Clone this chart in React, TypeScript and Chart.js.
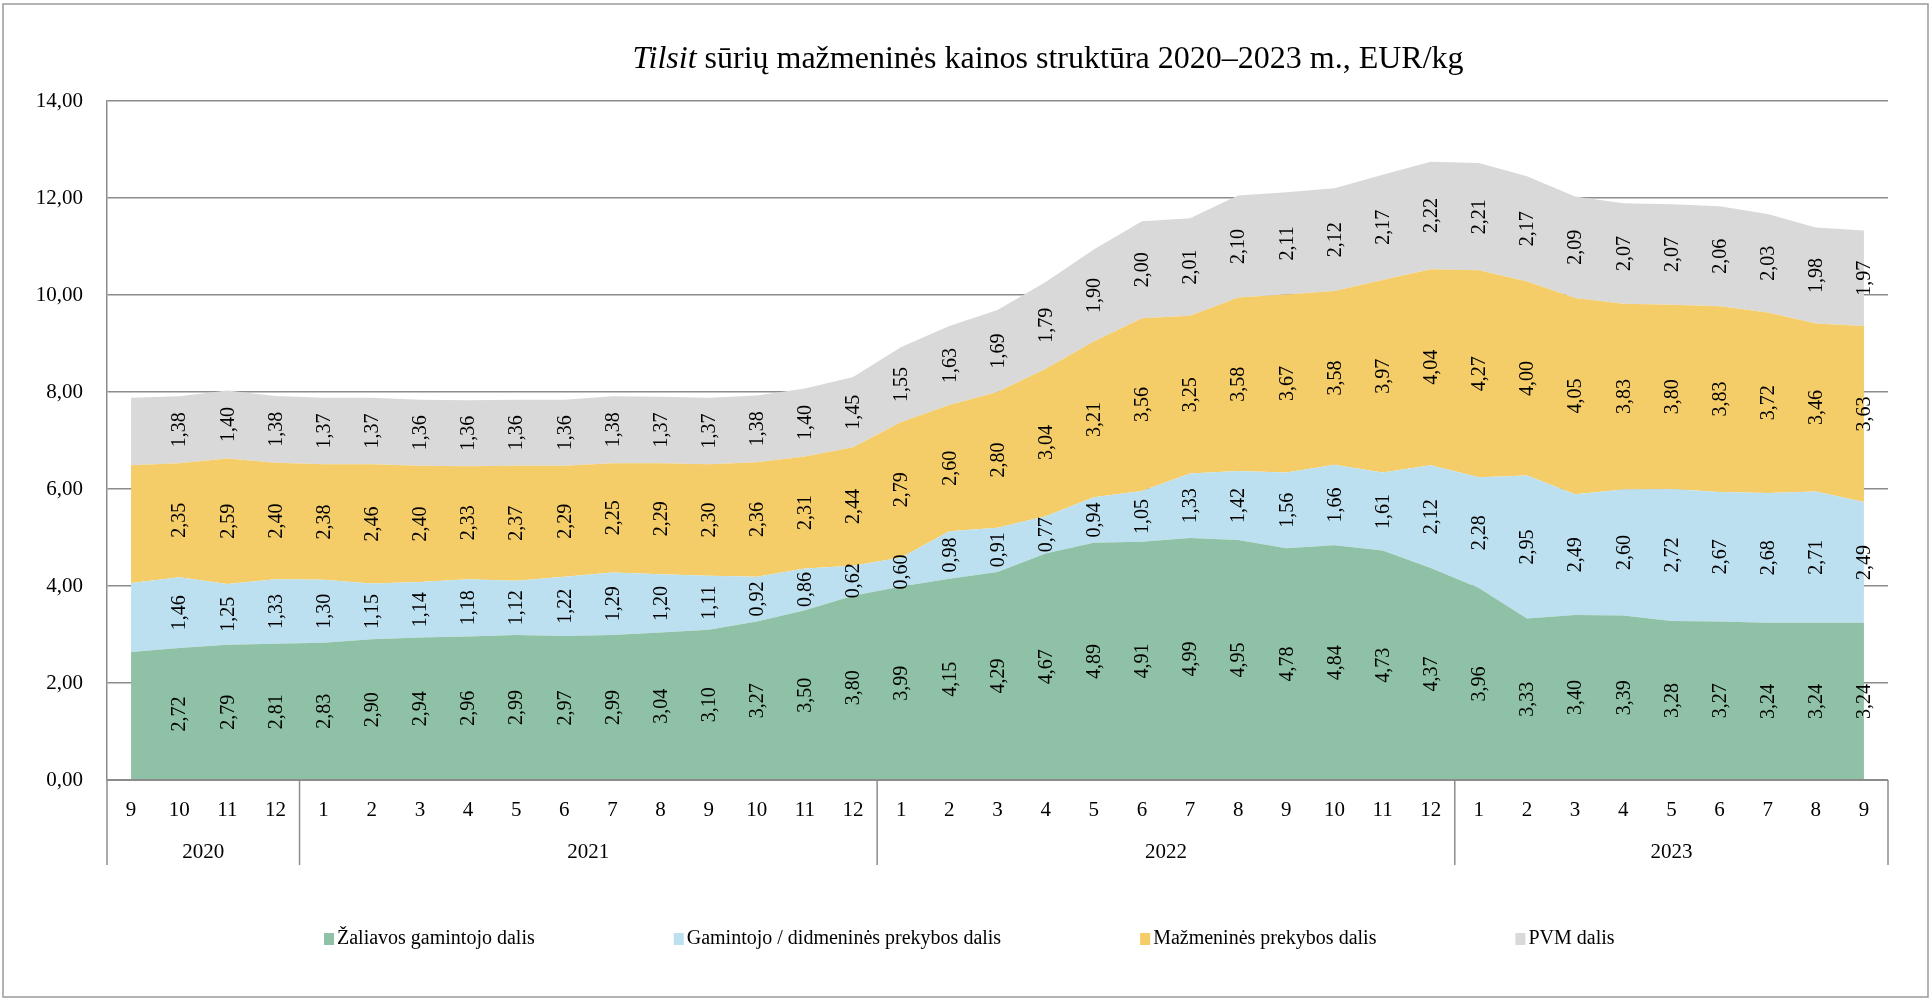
import React, { useEffect, useRef } from "react";
import { Chart, registerables } from "chart.js";

Chart.register(...registerables);

const months: string[] = [
  "9", "10", "11", "12",
  "1", "2", "3", "4", "5", "6", "7", "8", "9", "10", "11", "12",
  "1", "2", "3", "4", "5", "6", "7", "8", "9", "10", "11", "12",
  "1", "2", "3", "4", "5", "6", "7", "8", "9",
];
const years: string[] = ["2020", "2021", "2022", "2023"];
const yearMonthCounts: number[] = [4, 12, 12, 9];

const seriesNames: string[] = [
  "Žaliavos gamintojo dalis",
  "Gamintojo / didmeninės prekybos dalis",
  "Mažmeninės prekybos dalis",
  "PVM dalis",
];

const rawMilk: number[] = [
  2.64, 2.72, 2.79, 2.81,
  2.83, 2.90, 2.94, 2.96, 2.99, 2.97, 2.99, 3.04, 3.10, 3.27, 3.50, 3.80,
  3.99, 4.15, 4.29, 4.67, 4.89, 4.91, 4.99, 4.95, 4.78, 4.84, 4.73, 4.37,
  3.96, 3.33, 3.40, 3.39, 3.28, 3.27, 3.24, 3.24, 3.24,
];
const producerWholesale: number[] = [
  1.42, 1.46, 1.25, 1.33,
  1.30, 1.15, 1.14, 1.18, 1.12, 1.22, 1.29, 1.20, 1.11, 0.92, 0.86, 0.62,
  0.60, 0.98, 0.91, 0.77, 0.94, 1.05, 1.33, 1.42, 1.56, 1.66, 1.61, 2.12,
  2.28, 2.95, 2.49, 2.60, 2.72, 2.67, 2.68, 2.71, 2.49,
];
const retail: number[] = [
  2.43, 2.35, 2.59, 2.40,
  2.38, 2.46, 2.40, 2.33, 2.37, 2.29, 2.25, 2.29, 2.30, 2.36, 2.31, 2.44,
  2.79, 2.60, 2.80, 3.04, 3.21, 3.56, 3.25, 3.58, 3.67, 3.58, 3.97, 4.04,
  4.27, 4.00, 4.05, 3.83, 3.80, 3.83, 3.72, 3.46, 3.63,
];
const vat: number[] = [
  1.39, 1.38, 1.40, 1.38,
  1.37, 1.37, 1.36, 1.36, 1.36, 1.36, 1.38, 1.37, 1.37, 1.38, 1.40, 1.45,
  1.55, 1.63, 1.69, 1.79, 1.90, 2.00, 2.01, 2.10, 2.11, 2.12, 2.17, 2.22,
  2.21, 2.17, 2.09, 2.07, 2.07, 2.06, 2.03, 1.98, 1.97,
];

const yTicksMax = 14;
const yTicksStep = 2;

const colors = ["#8EC1A5", "#BDE0F0", "#F4CC68", "#D9D9D9"];
const gridColor = "#8c8c8c";
const FONT = "'Liberation Serif', 'Times New Roman', serif";

const fmt = (v: number) => v.toFixed(2).replace(".", ",");

const overlayPlugin = {
  id: "overlay",
  afterDraw(chart: any) {
    const ctx = chart.ctx as CanvasRenderingContext2D;
    const xs = chart.scales.x;
    const ys = chart.scales.y;
    const area = chart.chartArea;
    ctx.save();

    // outer frame
    ctx.strokeStyle = "#9a9a9a";
    ctx.lineWidth = 1.5;
    ctx.strokeRect(3, 4, 1925, 993);

    // data labels
    ctx.fillStyle = "#000";
    ctx.font = `20px ${FONT}`;
    ctx.textAlign = "center";
    ctx.textBaseline = "middle";
    const n = months.length;
    for (let j = 1; j < n; j++) {
      let base = 0;
      chart.data.datasets.forEach((ds: any) => {
        const v = ds.data[j] as number;
        const mid = base + v / 2;
        base += v;
        const x = xs.getPixelForValue(j);
        const y = ys.getPixelForValue(mid);
        ctx.save();
        ctx.translate(x, y);
        ctx.rotate(-Math.PI / 2);
        ctx.fillText(fmt(v), 0, 1);
        ctx.restore();
      });
    }

    // axis lines
    ctx.strokeStyle = gridColor;
    ctx.lineWidth = 2;
    ctx.beginPath();
    ctx.moveTo(area.left, area.bottom);
    ctx.lineTo(area.right, area.bottom);
    ctx.stroke();

    // multi-level category axis
    const catW = (area.right - area.left) / n;
    const sepBottom = 865;
    ctx.lineWidth = 1.5;
    let cum = 0;
    const boundaries: number[] = [0];
    yearMonthCounts.forEach((c) => {
      cum += c;
      boundaries.push(cum);
    });
    boundaries.forEach((b) => {
      const x = area.left + b * catW;
      ctx.beginPath();
      ctx.moveTo(x, area.bottom);
      ctx.lineTo(x, sepBottom);
      ctx.stroke();
    });
    ctx.fillStyle = "#000";
    ctx.font = `21px ${FONT}`;
    ctx.textAlign = "center";
    ctx.textBaseline = "middle";
    months.forEach((m, i) => {
      ctx.fillText(m, xs.getPixelForValue(i), 810);
    });
    years.forEach((yr, k) => {
      const x0 = area.left + boundaries[k] * catW;
      const x1 = area.left + boundaries[k + 1] * catW;
      ctx.fillText(yr, (x0 + x1) / 2, 852);
    });

    // title
    const titleY = 60;
    const italicPart = "Tilsit";
    const restPart = " sūrių mažmeninės kainos struktūra 2020–2023 m., EUR/kg";
    ctx.font = `italic 32px ${FONT}`;
    const w1 = ctx.measureText(italicPart).width;
    ctx.font = `32px ${FONT}`;
    const w2 = ctx.measureText(restPart).width;
    const tx = 1048 - (w1 + w2) / 2;
    ctx.textAlign = "left";
    ctx.font = `italic 32px ${FONT}`;
    ctx.fillText(italicPart, tx, titleY);
    ctx.font = `32px ${FONT}`;
    ctx.fillText(restPart, tx + w1, titleY);

    // legend
    ctx.font = `20px ${FONT}`;
    ctx.textBaseline = "middle";
    let lx = 324;
    const ly = 939;
    seriesNames.forEach((name, i) => {
      ctx.fillStyle = colors[i];
      ctx.fillRect(lx, ly - 6, 10, 12);
      ctx.fillStyle = "#000";
      ctx.fillText(name, lx + 13, ly);
      lx += 13 + ctx.measureText(name).width + 139;
    });

    ctx.restore();
  },
};

export default function App() {
  const ref = useRef<HTMLCanvasElement | null>(null);
  useEffect(() => {
    if (!ref.current) return;
    const values = [rawMilk, producerWholesale, retail, vat];
    const chart = new Chart(ref.current, {
      type: "line",
      data: {
        labels: months.map((m, i) => `${i}-${m}`),
        datasets: values.map((d, i) => ({
          label: seriesNames[i],
          data: d,
          backgroundColor: colors[i],
          borderColor: colors[i],
          borderWidth: 0,
          pointRadius: 0,
          tension: 0,
          fill: i === 0 ? "origin" : "-1",
        })),
      },
      options: {
        responsive: false,
        animation: false,
        events: [],
        layout: { padding: { top: 101, left: 0, right: 44, bottom: 220 } },
        plugins: {
          legend: { display: false },
          title: { display: false },
          tooltip: { enabled: false },
        },
        scales: {
          x: { display: false, offset: true },
          y: {
            stacked: true,
            min: 0,
            max: yTicksMax,
            ticks: {
              stepSize: yTicksStep,
              color: "#000",
              padding: 24,
              font: { family: FONT, size: 21 },
              callback: (v: any) => fmt(Number(v)),
            },
            grid: { color: gridColor, lineWidth: 1.5, drawTicks: false },
            border: { display: true, color: gridColor, width: 1.5 },
            afterFit: (s: any) => {
              s.width = 107;
            },
          },
        },
      },
      plugins: [overlayPlugin],
    });
    return () => chart.destroy();
  }, []);
  return (
    <div style={{ position: "absolute", left: 0, top: 0, width: 1932, height: 1000, background: "#fff" }}>
      <canvas ref={ref} width={1932} height={1000} style={{ display: "block" }} />
    </div>
  );
}
